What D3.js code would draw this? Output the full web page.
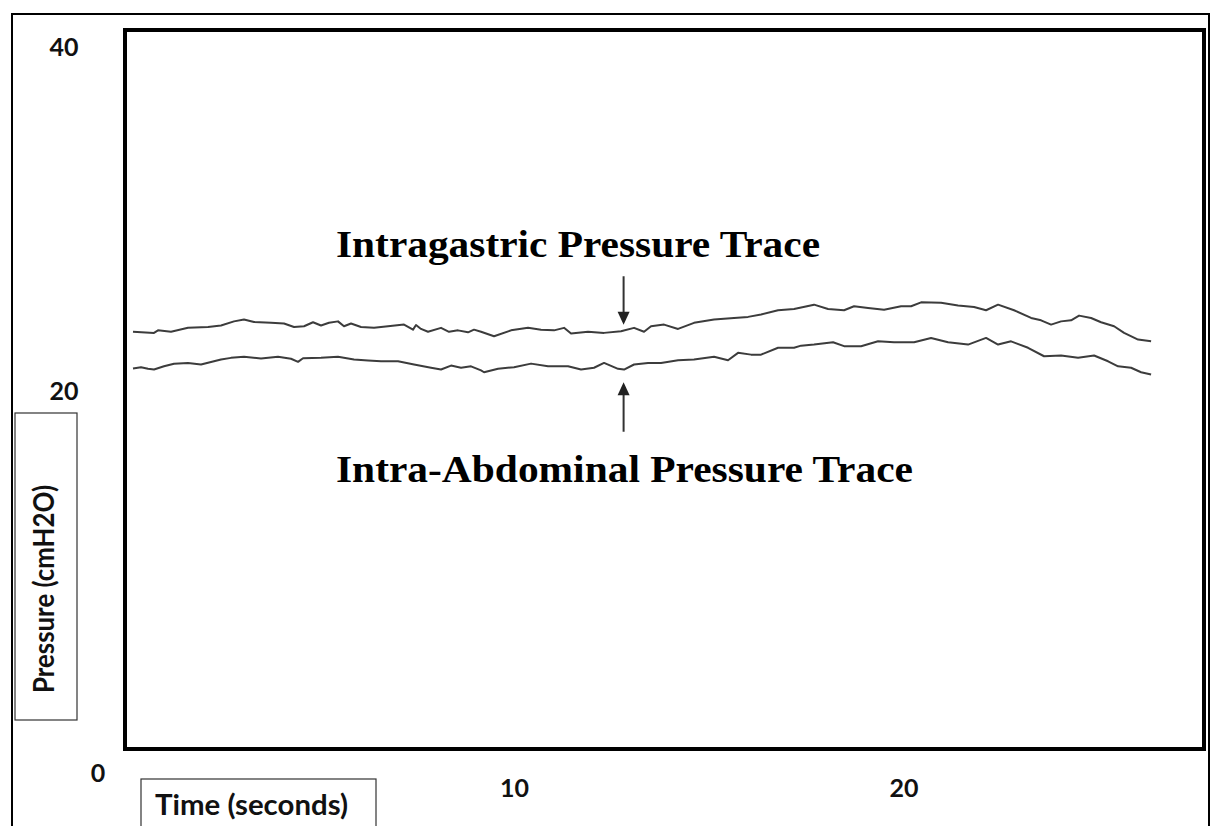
<!DOCTYPE html>
<html>
<head>
<meta charset="utf-8">
<script src="https://cdn.jsdelivr.net/npm/d3@7"></script>
<style>
  html, body { margin: 0; padding: 0; background: #fff; }
  svg { display: block; }
</style>
</head>
<body>
<svg id="chart" width="1210" height="826"></svg>
<script>
// ---- data ----
const xTickValues = [10, 20];
const xTickLabels = ["10", "20"];
const yTickValues = [20, 40];
const yTickLabels = ["20", "40"];
const originLabel = "0";
const xAxisTitle = "Time (seconds)";
const yAxisTitle = "Pressure (cmH2O)";
const gastricLabel = "Intragastric Pressure Trace";
const abdominalLabel = "Intra-Abdominal Pressure Trace";

const gastricTime = [0.205,0.745,0.847,1.181,1.617,2.131,2.465,2.798,3.055,3.312,3.748,4.082,4.339,4.596,4.827,5.032,5.237,5.468,5.622,5.802,6.059,6.393,6.752,7.163,7.394,7.471,7.599,7.779,8.113,8.318,8.549,8.806,8.960,9.140,
  9.474,9.910,10.347,10.680,11.014,11.271,11.451,11.887,12.298,12.734,13.068,13.325,13.504,13.838,14.198,14.608,15.122,15.635,15.995,16.329,16.765,17.176,
  17.689,18.049,18.460,18.716,19.076,19.487,19.923,20.180,20.437,20.950,21.386,21.797,22.105,22.413,22.824,23.261,23.517,23.774,24.031,24.288,24.493,24.801,25.058,25.392,25.648,26.008,26.342];
const gastricPressure = [23.21,23.15,23.29,23.21,23.43,23.48,23.56,23.79,23.89,23.76,23.71,23.67,23.48,23.52,23.74,23.56,23.71,23.79,23.52,23.67,23.48,23.43,23.52,23.61,23.33,23.59,23.37,23.21,23.43,23.21,23.29,23.18,23.33,23.21,
  22.96,23.29,23.43,23.33,23.29,23.43,23.11,23.21,23.15,23.24,23.43,23.21,23.52,23.61,23.37,23.71,23.89,23.98,24.04,24.17,24.41,24.48,
  24.72,24.48,24.41,24.63,24.54,24.44,24.63,24.63,24.85,24.82,24.67,24.59,24.41,24.72,24.41,23.98,23.85,23.61,23.79,23.85,24.11,23.98,23.74,23.52,23.15,22.78,22.68];

const abdominalTime = [0.205,0.411,0.590,0.745,1.001,1.258,1.617,1.951,2.285,2.465,2.721,3.055,3.492,3.928,4.262,4.442,4.570,5.032,5.468,5.879,6.239,6.572,7.009,7.420,7.856,8.113,8.370,8.626,8.883,9.140,
  9.217,9.576,9.987,10.424,10.860,11.374,11.707,12.041,12.298,12.657,12.811,13.068,13.427,13.761,14.198,14.608,15.122,15.481,15.738,16.072,16.329,16.765,17.176,
  17.356,17.689,18.177,18.460,18.896,19.332,19.743,20.257,20.693,21.130,21.643,22.105,22.413,22.747,23.183,23.594,24.031,24.467,24.878,25.237,25.494,25.828,26.085,26.342];
const abdominalPressure = [21.17,21.24,21.15,21.11,21.29,21.43,21.48,21.39,21.57,21.67,21.76,21.82,21.72,21.82,21.71,21.54,21.74,21.76,21.82,21.67,21.61,21.57,21.57,21.39,21.21,21.11,21.33,21.21,21.29,21.06,
  20.96,21.15,21.24,21.44,21.29,21.29,21.11,21.21,21.48,21.15,21.11,21.39,21.48,21.48,21.63,21.67,21.82,21.63,22.04,21.94,21.94,22.32,22.32,
  22.44,22.50,22.63,22.41,22.41,22.68,22.63,22.63,22.87,22.63,22.50,22.87,22.50,22.68,22.32,21.85,21.89,21.76,21.89,21.57,21.29,21.21,20.96,20.83];

// ---- layout ----
const svg = d3.select("#chart");
const plot = { left: 125, top: 30, right: 1204, bottom: 749 };
const x = d3.scaleLinear().domain([0, 27.7]).range([plot.left, plot.right]);
const y = d3.scaleLinear().domain([0, 40]).range([plot.bottom, plot.top]);

const labelFont = "Lato, 'Open Sans', sans-serif";
const serifFont = "'Liberation Serif', 'DejaVu Serif', serif";

// outer border
svg.append("rect")
  .attr("x", 12).attr("y", 14).attr("width", 1197).attr("height", 830)
  .attr("fill", "none").attr("stroke", "#000").attr("stroke-width", 2);

// traces
const line = d3.line().x(d => x(d[0])).y(d => y(d[1]));
const gastric = gastricTime.map((t, i) => [t, gastricPressure[i]]);
const abdominal = abdominalTime.map((t, i) => [t, abdominalPressure[i]]);
[gastric, abdominal].forEach(series => {
  svg.append("path")
    .datum(series)
    .attr("d", line)
    .attr("fill", "none")
    .attr("stroke", "#3c3c3c")
    .attr("stroke-width", 2)
    .attr("stroke-linejoin", "round");
});

// inner plot frame
svg.append("rect")
  .attr("x", plot.left).attr("y", plot.top)
  .attr("width", plot.right - plot.left).attr("height", plot.bottom - plot.top)
  .attr("fill", "none").attr("stroke", "#000").attr("stroke-width", 4);

// y tick labels
yTickValues.forEach((v, i) => {
  svg.append("text")
    .attr("x", 64)
    .attr("y", v === 40 ? y(v) + 16 : y(v))
    .attr("text-anchor", "middle")
    .attr("dominant-baseline", "central")
    .attr("font-family", labelFont).attr("font-weight", 700).attr("font-size", 25)
    .attr("fill", "#111")
    .text(yTickLabels[i]);
});
// origin label
svg.append("text")
  .attr("x", x(0) - 27).attr("y", y(0) + 23)
  .attr("text-anchor", "middle").attr("dominant-baseline", "central")
  .attr("font-family", labelFont).attr("font-weight", 700).attr("font-size", 25)
  .attr("fill", "#111")
  .text(originLabel);
// x tick labels
xTickValues.forEach((v, i) => {
  svg.append("text")
    .attr("x", x(v)).attr("y", y(0) + 38)
    .attr("text-anchor", "middle").attr("dominant-baseline", "central")
    .attr("font-family", labelFont).attr("font-weight", 700).attr("font-size", 25)
    .attr("fill", "#111")
    .text(xTickLabels[i]);
});

// x axis title box
svg.append("rect")
  .attr("x", 141).attr("y", 779).attr("width", 235).attr("height", 60)
  .attr("fill", "#fff").attr("stroke", "#333").attr("stroke-width", 1.2);
svg.append("text")
  .attr("x", 155).attr("y", 815)
  .attr("font-family", labelFont).attr("font-weight", 700).attr("font-size", 28)
  .attr("textLength", 193).attr("lengthAdjust", "spacingAndGlyphs")
  .attr("fill", "#111")
  .text(xAxisTitle);

// y axis title box
svg.append("rect")
  .attr("x", 15).attr("y", 413).attr("width", 62).attr("height", 307)
  .attr("fill", "#fff").attr("stroke", "#333").attr("stroke-width", 1.2);
svg.append("text")
  .attr("transform", "translate(54,589) rotate(-90)")
  .attr("text-anchor", "middle")
  .attr("font-family", labelFont).attr("font-weight", 700).attr("font-size", 29)
  .attr("textLength", 208).attr("lengthAdjust", "spacingAndGlyphs")
  .attr("fill", "#111")
  .text(yAxisTitle);

// annotations
const arrowT = 12.8;
// down arrow to gastric trace
svg.append("line")
  .attr("x1", x(arrowT)).attr("x2", x(arrowT))
  .attr("y1", y(26.3)).attr("y2", y(23.6) - 12)
  .attr("stroke", "#333").attr("stroke-width", 2);
svg.append("path")
  .attr("d", `M${x(arrowT) - 6},${y(23.6) - 13} L${x(arrowT) + 6},${y(23.6) - 13} L${x(arrowT)},${y(23.6)} Z`)
  .attr("fill", "#222");
// up arrow to abdominal trace
svg.append("line")
  .attr("x1", x(arrowT)).attr("x2", x(arrowT))
  .attr("y1", y(20.4) + 12).attr("y2", y(17.65))
  .attr("stroke", "#333").attr("stroke-width", 2);
svg.append("path")
  .attr("d", `M${x(arrowT) - 6},${y(20.4) + 13} L${x(arrowT) + 6},${y(20.4) + 13} L${x(arrowT)},${y(20.4)} Z`)
  .attr("fill", "#222");

svg.append("text")
  .attr("x", 336).attr("y", 257)
  .attr("font-family", serifFont).attr("font-weight", 700).attr("font-size", 37)
  .attr("textLength", 484).attr("lengthAdjust", "spacingAndGlyphs")
  .attr("fill", "#000")
  .text(gastricLabel);
svg.append("text")
  .attr("x", 336).attr("y", 482)
  .attr("font-family", serifFont).attr("font-weight", 700).attr("font-size", 37)
  .attr("textLength", 577).attr("lengthAdjust", "spacingAndGlyphs")
  .attr("fill", "#000")
  .text(abdominalLabel);
</script>
</body>
</html>
